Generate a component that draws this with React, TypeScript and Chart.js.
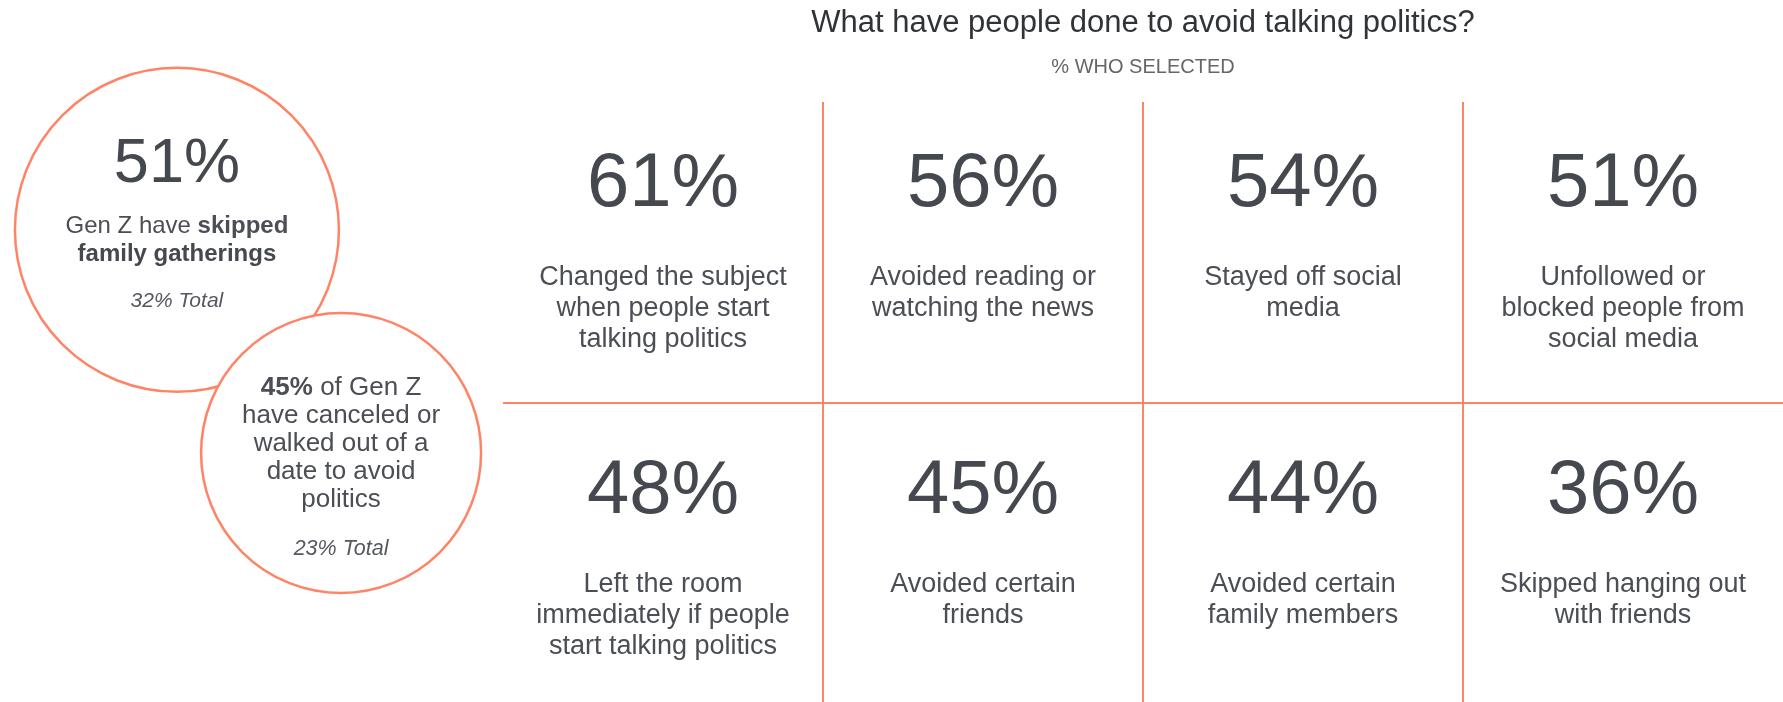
import React, { useEffect, useRef } from "react";
import { Chart, registerables } from "chart.js";

Chart.register(...registerables);

// ---- data ----
const TITLE = "What have people done to avoid talking politics?";
const SUBTITLE = "% WHO SELECTED";
const gridValues = [61, 56, 54, 51, 48, 45, 44, 36];
const gridLabels = [
  ["Changed the subject", "when people start", "talking politics"],
  ["Avoided reading or", "watching the news"],
  ["Stayed off social", "media"],
  ["Unfollowed or", "blocked people from", "social media"],
  ["Left the room", "immediately if people", "start talking politics"],
  ["Avoided certain", "friends"],
  ["Avoided certain", "family members"],
  ["Skipped hanging out", "with friends"],
];
const calloutValues = [51, 45];
const calloutTotals = [32, 23];

// ---- layout / style ----
const W = 1783;
const H = 702;
const COLS = 4;
const ROWS = 2;
// axis ranges (1 unit = one grid column horizontally, one grid row vertically)
const X_MIN = -1.571875;
const X_MAX = 4;
const Y_MIN = -0.3127;
const Y_MAX = 1.974;
const GRID_TOP = 0.0195; // where the vertical dividers start
const CORAL = "#ff8466";
const DARK = "#45484f";
const TEXT = "#4b4e55";
const TITLE_COLOR = "#303338";
const SUB_COLOR = "#666666";
const FONT = "'Liberation Sans', Arial, Helvetica, sans-serif";
const CIRCLES = [
  { x: -1.019, y: 0.436, r: 162 },
  { x: -0.506, y: 1.163, r: 140 },
];

type Run = { t: string; b?: boolean };

function drawRuns(ctx: CanvasRenderingContext2D, runs: Run[], cx: number, y: number, size: number, color: string) {
  const fonts = runs.map((r) => `${r.b ? "bold " : ""}${size}px ${FONT}`);
  let total = 0;
  const widths = runs.map((r, i) => {
    ctx.font = fonts[i];
    const w = ctx.measureText(r.t).width;
    total += w;
    return w;
  });
  let x = cx - total / 2;
  ctx.textAlign = "left";
  ctx.fillStyle = color;
  runs.forEach((r, i) => {
    ctx.font = fonts[i];
    ctx.fillText(r.t, x, y);
    x += widths[i];
  });
}

const textPlugin = {
  id: "infographicText",
  afterDatasetsDraw(chart: any) {
    const { ctx } = chart;
    const xs = chart.scales.x;
    const ys = chart.scales.y;
    ctx.save();
    ctx.textBaseline = "alphabetic";

    const gridTop = ys.getPixelForValue(GRID_TOP);
    const gx = xs.getPixelForValue(COLS / 2);
    ctx.textAlign = "center";
    ctx.fillStyle = TITLE_COLOR;
    ctx.font = `31px ${FONT}`;
    ctx.fillText(TITLE, gx, gridTop - 70);
    ctx.fillStyle = SUB_COLOR;
    ctx.font = `20px ${FONT}`;
    ctx.fillText(SUBTITLE, gx, gridTop - 29);

    gridValues.forEach((v, i) => {
      const col = i % COLS;
      const row = Math.floor(i / COLS);
      const cx = xs.getPixelForValue(col + 0.5);
      const top = ys.getPixelForValue(row);
      ctx.textAlign = "center";
      ctx.fillStyle = DARK;
      ctx.font = `76px ${FONT}`;
      ctx.fillText(`${v}%`, cx, top + 110);
      ctx.fillStyle = TEXT;
      ctx.font = `27px ${FONT}`;
      gridLabels[i].forEach((line, k) => {
        ctx.fillText(line, cx, top + 189 + k * 31);
      });
    });

    const meta = chart.getDatasetMeta(0);
    const big = meta.data[0];
    const small = meta.data[1];
    ctx.textAlign = "center";
    ctx.fillStyle = DARK;
    ctx.font = `63px ${FONT}`;
    ctx.fillText(`${calloutValues[0]}%`, big.x, big.y - 48);
    drawRuns(ctx, [{ t: "Gen Z have " }, { t: "skipped", b: true }], big.x, big.y + 3, 24, TEXT);
    drawRuns(ctx, [{ t: "family gatherings", b: true }], big.x, big.y + 31, 24, DARK);
    ctx.textAlign = "center";
    ctx.fillStyle = "#555860";
    ctx.font = `italic 21px ${FONT}`;
    ctx.fillText(`${calloutTotals[0]}% Total`, big.x, big.y + 77);

    const smallLines: Run[][] = [
      [{ t: `${calloutValues[1]}%`, b: true }, { t: " of Gen Z" }],
      [{ t: "have canceled or" }],
      [{ t: "walked out of a" }],
      [{ t: "date to avoid" }],
      [{ t: "politics" }],
    ];
    smallLines.forEach((runs, k) => {
      drawRuns(ctx, runs, small.x, small.y - 58 + k * 28, 26, TEXT);
    });
    ctx.textAlign = "center";
    ctx.fillStyle = "#555860";
    ctx.font = `italic 21.5px ${FONT}`;
    ctx.fillText(`${calloutTotals[1]}% Total`, small.x, small.y + 102);

    ctx.restore();
  },
};

function dividerDataset(points: { x: number; y: number }[]) {
  return {
    type: "line",
    data: points,
    borderColor: CORAL,
    borderWidth: 2,
    pointRadius: 0,
    fill: false,
    tension: 0,
  };
}

export default function App() {
  const ref = useRef<HTMLCanvasElement | null>(null);

  useEffect(() => {
    document.body.style.margin = "0";
    const canvas = ref.current;
    if (!canvas) return;
    const dividers: any[] = [
      dividerDataset([
        { x: 0, y: 1 },
        { x: COLS, y: 1 },
      ]),
    ];
    for (let k = 1; k < COLS; k++) {
      dividers.push(
        dividerDataset([
          { x: k, y: GRID_TOP },
          { x: k, y: ROWS },
        ])
      );
    }
    const chart = new Chart(canvas, {
      type: "bubble",
      data: {
        datasets: [
          {
            data: CIRCLES.map((c) => ({ x: c.x, y: c.y, r: c.r })),
            backgroundColor: "#ffffff",
            borderColor: CORAL,
            borderWidth: 2.5,
            clip: false,
          } as any,
          ...dividers,
        ],
      },
      options: {
        animation: false,
        responsive: false,
        devicePixelRatio: 1,
        events: [],
        layout: { autoPadding: false, padding: 0 },
        plugins: {
          legend: { display: false },
          tooltip: { enabled: false },
          title: { display: false },
        },
        scales: {
          x: { type: "linear", min: X_MIN, max: X_MAX, display: false },
          y: { type: "linear", min: Y_MIN, max: Y_MAX, reverse: true, display: false },
        },
      } as any,
      plugins: [textPlugin],
    });
    return () => chart.destroy();
  }, []);

  return (
    <div style={{ width: W, height: H, overflow: "hidden", background: "#fff" }}>
      <canvas ref={ref} width={W} height={H} style={{ display: "block" }} />
    </div>
  );
}
